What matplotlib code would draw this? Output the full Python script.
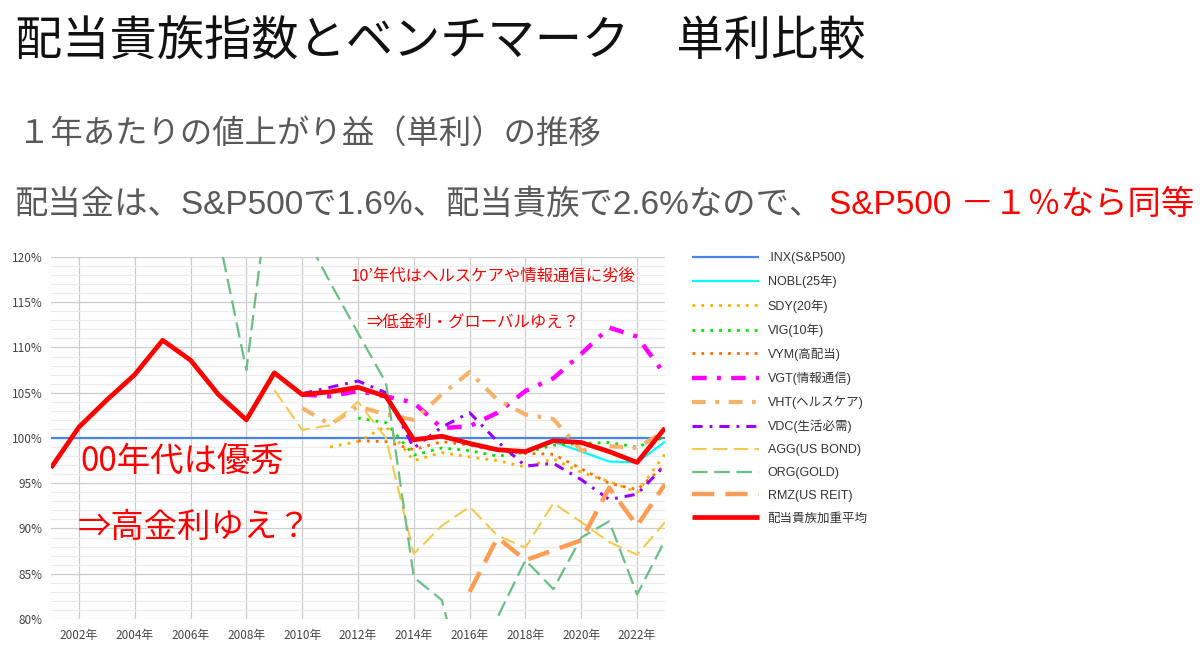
import matplotlib
matplotlib.use('Agg')
import numpy as np
import matplotlib.pyplot as plt
from matplotlib.ticker import MultipleLocator, FuncFormatter

plt.rcParams['font.family'] = ['Noto Sans CJK JP', 'DejaVu Sans']
latin_jp = ['Liberation Sans', 'Noto Sans CJK JP']

W, H = 1200, 657
nan = np.nan

years = list(range(2001, 2024))

# values in %, first year given separately
inx = [100.0] * 23
nobl_start = 2014
nobl = [99.7, 100.1, 99.3, 98.7, 98.6, 99.6, 98.5, 97.4, 97.3, 99.6]
sdy_start = 2011
sdy = [99.0, 99.6, 101.3, 97.5, 98.4, 97.9, 97.5, 96.8, 97.7, 96.2, 95.2, 94.0, 98.2]
vig_start = 2012
vig = [102.2, 101.7, 98.1, 98.9, 98.6, 98.0, 98.4, 99.2, 99.4, 99.5, 99.0, 100.1]
vym_start = 2012
vym = [99.7, 99.6, 98.7, 99.6, 99.2, 98.6, 98.3, 98.2, 96.6, 95.0, 94.3, 97.0]
vgt_start = 2010
vgt = [104.8, 104.6, 105.2, 104.6, 103.9, 101.1, 101.3, 102.8, 105.2, 106.6, 109.3, 112.2, 111.2, 107.0]
vht_start = 2010
vht = [103.3, 101.5, 103.5, 102.6, 102.0, 104.8, 107.3, 104.2, 102.6, 102.1, 98.6, 99.1, 98.9, 100.8]
vdc_start = 2010
vdc = [104.9, 105.6, 106.3, 105.0, 98.9, 101.2, 102.8, 99.6, 96.9, 97.2, 95.4, 93.2, 93.8, 97.0]
agg_start = 2009
agg = [105.3, 100.9, 101.4, 104.0, 100.0, 87.2, 90.3, 92.4, 89.2, 87.9, 92.8, 90.7, 88.5, 87.1, 90.7]
org_start = 2007
org = [122.4, 107.5, 132.0, 123.0, 117.2, 111.6, 106.1, 84.6, 82.1, 70.5, 80.2, 86.5, 83.3, 89.0, 90.8, 82.7, 88.7]
rmz_start = 2016
rmz = [83.0, 89.0, 86.5, 87.6, 88.7, 94.5, 90.3, 94.9]
aristocrats = [96.7, 101.2, 104.2, 107.0, 110.8, 108.6, 104.8, 102.0, 107.2, 104.8, 105.1, 105.6,
               104.6, 99.8, 100.2, 99.4, 98.7, 98.5, 99.7, 99.5, 98.5, 97.3, 101.1]

labels = ['.INX(S&P500)', 'NOBL(25年)', 'SDY(20年)', 'VIG(10年)', 'VYM(高配当)', 'VGT(情報通信)',
          'VHT(ヘルスケア)', 'VDC(生活必需)', 'AGG(US BOND)', 'ORG(GOLD)', 'RMZ(US REIT)', '配当貴族加重平均']


def pad(start, vals):
    return [nan] * (start - years[0]) + list(vals)


series = [
    inx,
    pad(nobl_start, nobl),
    pad(sdy_start, sdy),
    pad(vig_start, vig),
    pad(vym_start, vym),
    pad(vgt_start, vgt),
    pad(vht_start, vht),
    pad(vdc_start, vdc),
    pad(agg_start, agg),
    pad(org_start, org),
    pad(rmz_start, rmz),
    aristocrats,
]

dashdot = (0, (3.3, 2.3, 0.9, 2.3))
styles = [
    dict(color='#4a86e8', lw=1.6, ls='-'),
    dict(color='#00ffff', lw=1.6, ls='-'),
    dict(color='#f9b000', lw=2.0, ls=(0, (1, 2.2))),
    dict(color='#00e600', lw=2.0, ls=(0, (1, 2.2))),
    dict(color='#ff6d01', lw=2.0, ls=(0, (1, 2.2))),
    dict(color='#ff00ff', lw=3.2, ls=dashdot),
    dict(color='#f6b26b', lw=3.0, ls=dashdot),
    dict(color='#9900ff', lw=2.2, ls=dashdot),
    dict(color='#f6c94e', lw=1.5, ls=(0, (7, 3))),
    dict(color='#6abf86', lw=1.6, ls=(0, (7, 3))),
    dict(color='#ff9c55', lw=3.2, ls=(0, (5, 2.5))),
    dict(color='#ff0000', lw=3.4, ls='-'),
]

fig = plt.figure(figsize=(W / 100, H / 100), dpi=100)
ax = fig.add_axes([51 / W, 1 - 619 / H, (665 - 51) / W, (619 - 257) / H])

for i, (vals, lab, st) in enumerate(zip(series, labels, styles)):
    ax.plot(years, vals, label=lab, color=st['color'], lw=st['lw'], linestyle=st['ls'],
            solid_capstyle='butt', dash_capstyle='butt', zorder=3 + i)

ax.set_xlim(2001, 2023)
ax.set_ylim(80, 120)
ax.yaxis.set_major_locator(MultipleLocator(5))
ax.yaxis.set_minor_locator(MultipleLocator(1))
ax.set_xticks(range(2002, 2023, 2))
ax.xaxis.set_major_formatter(FuncFormatter(lambda v, p: f'{int(v)}年'))
ax.yaxis.set_major_formatter(FuncFormatter(lambda v, p: f'{int(v)}%'))
ax.grid(which='major', color='#cccccc', lw=0.9, zorder=0)
ax.grid(which='minor', axis='y', color='#ebebeb', lw=0.8, zorder=0)
ax.set_axisbelow(True)
for s in ax.spines.values():
    s.set_visible(False)
ax.tick_params(which='both', length=0, labelsize=8.5, labelcolor='#444444')
ax.tick_params(axis='x', pad=7)
ax.tick_params(axis='y', pad=6)

leg = ax.legend(loc='upper left', bbox_to_anchor=(692 / W, 1 - 252 / H), bbox_transform=fig.transFigure,
                frameon=False, fontsize=9, handlelength=5.35, handletextpad=0.7,
                labelspacing=0.86, borderpad=0, borderaxespad=0)
for t in leg.get_texts():
    t.set_color('#333333')
    t.set_family(latin_jp)

# headings
fig.text(15 / W, 1 - 42 / H, '配当貴族指数とベンチマーク　単利比較', fontsize=34, color='#111111',
         va='center', ha='left')
fig.text(18 / W, 1 - 134 / H, '１年あたりの値上がり益（単利）の推移', fontsize=23.3, color='#595959',
         va='center', ha='left')
fig.text(14 / W, 1 - 205 / H, '配当金は、S&P500で1.6%、配当貴族で2.6%なので、', fontsize=24,
         color='#595959', va='center', ha='left', family=latin_jp)
fig.text(829 / W, 1 - 205 / H, 'S&P500 －１％なら同等', fontsize=24, color='#ff0000',
         va='center', ha='left', family=latin_jp)

# annotations
fig.text(80 / W, 1 - 461 / H, '00年代は優秀', fontsize=24, color='#ff0000', va='center', ha='left')
fig.text(78 / W, 1 - 527 / H, '⇒高金利ゆえ？', fontsize=24, color='#ff0000', va='center', ha='left')
fig.text(350 / W, 1 - 276 / H, '10’年代はヘルスケアや情報通信に劣後', fontsize=11.8, color='#ff0000',
         va='center', ha='left')
fig.text(366 / W, 1 - 322 / H, '⇒低金利・グローバルゆえ？', fontsize=11.8, color='#ff0000',
         va='center', ha='left')

fig.savefig('out.png', dpi=100, facecolor='white')
